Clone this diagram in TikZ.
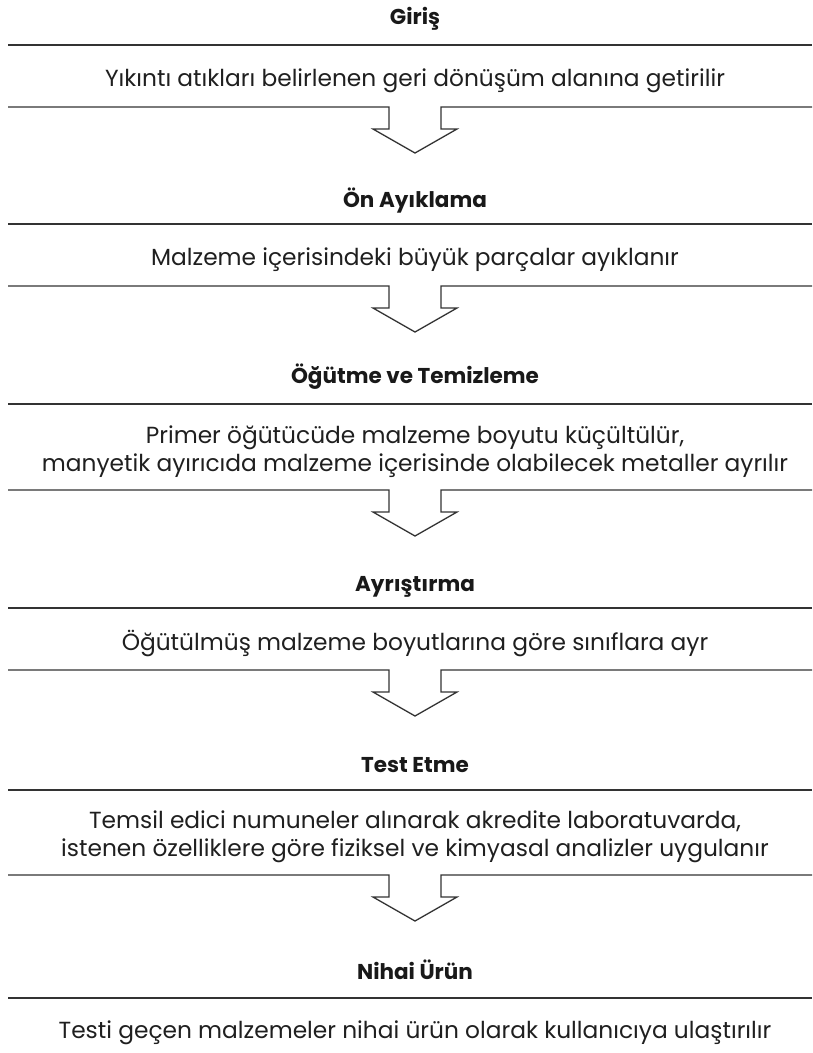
\documentclass[tikz,border=0pt]{standalone}
\usepackage{fontspec}
\setmainfont{Poppins}
\begin{document}
\begin{tikzpicture}[x=1pt,y=-1pt,
  hdr/.style={font=\fontsize{21.5}{24}\selectfont\bfseries, text=black!90, inner sep=0pt, anchor=base},
  body/.style={font=\fontsize{23.3}{28}\selectfont, text=black!88, inner sep=0pt, anchor=base, align=center},
  rule/.style={line width=1.3pt, draw=black!80, line join=miter}]
  \useasboundingbox (0,0) rectangle (812,1053);

  % plain separator under a heading
  \def\plainrule#1{\draw[rule] (8,#1) -- (812,#1);}
  % separator carrying the hollow downward arrow
  \def\arrowrule#1{\draw[rule] (8,#1) -- (389,#1) -- (389,#1+22) -- (373,#1+22)
      -- (415,#1+46) -- (457,#1+22) -- (441,#1+22) -- (441,#1) -- (812,#1);}

  % 1
  \node[hdr] (h1) at (415,24) {Giriş};
  \plainrule{45}
  \node[body] (b1) at (415,86) {Yıkıntı atıkları belirlenen geri dönüşüm alanına getirilir};
  \arrowrule{107}

  % 2
  \node[hdr] (h2) at (415,207) {Ön Ayıklama};
  \plainrule{224}
  \node[body] (b2) at (415,265) {Malzeme içerisindeki büyük parçalar ayıklanır};
  \arrowrule{286}

  % 3 (two-line body: position given for its last baseline)
  \node[hdr] (h3) at (415,383) {Öğütme ve Temizleme};
  \plainrule{404}
  \node[body] (b3) at (415,471) {Primer öğütücüde malzeme boyutu küçültülür,\\manyetik ayırıcıda malzeme içerisinde olabilecek metaller ayrılır};
  \arrowrule{490}

  % 4
  \node[hdr] (h4) at (415,591) {Ayrıştırma};
  \plainrule{608}
  \node[body] (b4) at (415,650) {Öğütülmüş malzeme boyutlarına göre sınıflara ayr};
  \arrowrule{670}

  % 5
  \node[hdr] (h5) at (415,772) {Test Etme};
  \plainrule{790}
  \node[body] (b5) at (415,856) {Temsil edici numuneler alınarak akredite laboratuvarda,\\istenen özelliklere göre fiziksel ve kimyasal analizler uygulanır};
  \arrowrule{875}

  % 6
  \node[hdr] (h6) at (415,979) {Nihai Ürün};
  \plainrule{998}
  \node[body] (b6) at (415,1038) {Testi geçen malzemeler nihai ürün olarak kullanıcıya ulaştırılır};
\end{tikzpicture}
\end{document}
